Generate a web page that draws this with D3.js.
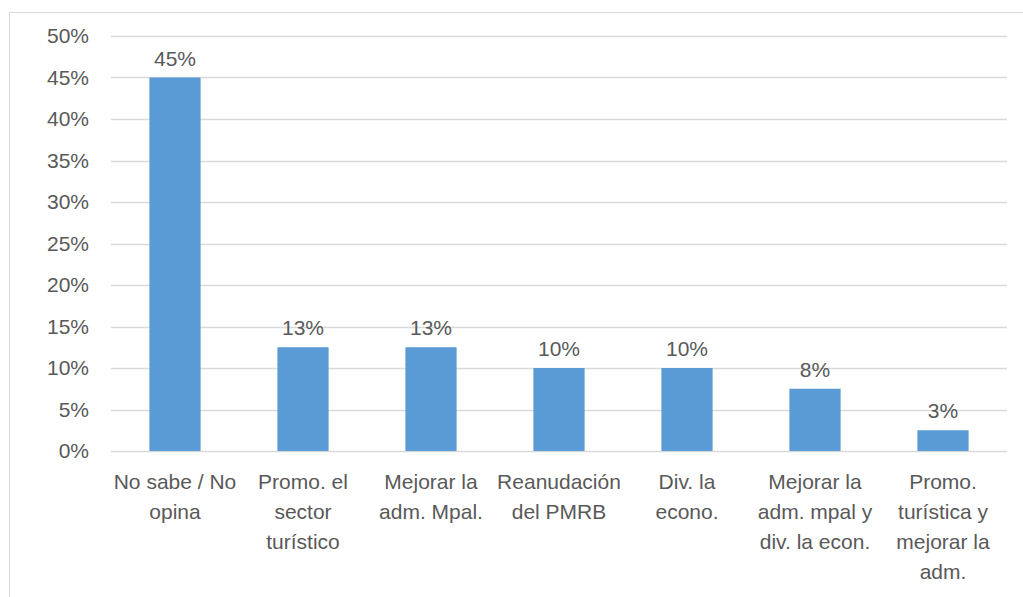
<!DOCTYPE html>
<html>
<head>
<meta charset="utf-8">
<script src="https://cdn.jsdelivr.net/npm/d3@7"></script>
<style>
  body { margin: 0; background: #fff; }
  text { font-family: "Liberation Sans", Arial, sans-serif; fill: #595959; }
</style>
</head>
<body>
<div id="chart"></div>
<script>
var categories = ["No sabe / No|opina", "Promo. el|sector|turístico", "Mejorar la|adm. Mpal.",
                  "Reanudación|del PMRB", "Div. la|econo.", "Mejorar la|adm. mpal y|div. la econ.",
                  "Promo.|turística y|mejorar la|adm."];
var values = [45, 12.5, 12.5, 10, 10, 7.5, 2.5];
var valueLabels = ["45%", "13%", "13%", "10%", "10%", "8%", "3%"];
var yTicks = [0, 5, 10, 15, 20, 25, 30, 35, 40, 45, 50];

var w = 1023, h = 597;
var fs = 21;
var svg = d3.select("#chart").append("svg")
    .attr("width", w)
    .attr("height", h);

// chart area border
svg.append("rect")
    .attr("x", 9.5).attr("y", 12.5)
    .attr("width", w + 10).attr("height", h + 10)
    .attr("fill", "none")
    .attr("stroke", "#d9d9d9");

var plotL = 111, plotR = 1007, plotT = 36, plotB = 451;

var x = d3.scaleBand()
    .domain(categories)
    .range([plotL, plotR])
    .paddingInner(0.6)
    .paddingOuter(0.3);

var y = d3.scaleLinear()
    .domain([0, 50])
    .range([plotB, plotT]);

// gridlines
svg.append("g")
    .selectAll("line")
    .data(yTicks)
  .enter().append("line")
    .attr("x1", plotL).attr("x2", plotR)
    .attr("y1", function(d) { return Math.round(y(d)) + 0.5; })
    .attr("y2", function(d) { return Math.round(y(d)) + 0.5; })
    .attr("stroke", "#d9d9d9")
    .attr("stroke-width", 1.5);

// y axis
var yaxis = d3.axisLeft(y)
    .tickValues(yTicks)
    .tickSize(0)
    .tickPadding(22)
    .tickFormat(function(d) { return d + "%"; });
var gy = svg.append("g")
    .attr("transform", "translate(" + plotL + ",0)")
    .call(yaxis);
gy.select(".domain").remove();
gy.selectAll("text")
    .attr("font-size", fs)
    .attr("font-family", "Liberation Sans, Arial, sans-serif")
    .attr("fill", "#595959");

// bars
svg.selectAll("rect.bar")
    .data(values)
  .enter().append("rect")
    .attr("class", "bar")
    .attr("x", function(d, i) { return x(categories[i]); })
    .attr("width", x.bandwidth())
    .attr("y", function(d) { return y(d); })
    .attr("height", function(d) { return y(0) - y(d); })
    .attr("fill", "#5b9bd5");

// value labels
svg.selectAll("text.val")
    .data(values)
  .enter().append("text")
    .attr("class", "val")
    .attr("x", function(d, i) { return x(categories[i]) + x.bandwidth() / 2; })
    .attr("y", function(d) { return y(d) - 12; })
    .attr("text-anchor", "middle")
    .attr("font-size", fs)
    .text(function(d, i) { return valueLabels[i]; });

// x axis labels
var xaxis = d3.axisBottom(x).tickSize(0).tickFormat("");
var gx = svg.append("g")
    .attr("transform", "translate(0," + plotB + ")")
    .call(xaxis);
gx.select(".domain").remove();

svg.selectAll("text.cat")
    .data(categories)
  .enter().append("text")
    .attr("class", "cat")
    .attr("text-anchor", "middle")
    .attr("font-size", fs)
    .attr("x", function(d) { return x(d) + x.bandwidth() / 2; })
    .attr("y", plotB + 38)
    .each(function(d) {
        var t = d3.select(this);
        d.split("|").forEach(function(line, j) {
            t.append("tspan")
                .attr("x", t.attr("x"))
                .attr("dy", j == 0 ? 0 : 30)
                .text(line);
        });
    });
</script>
</body>
</html>
